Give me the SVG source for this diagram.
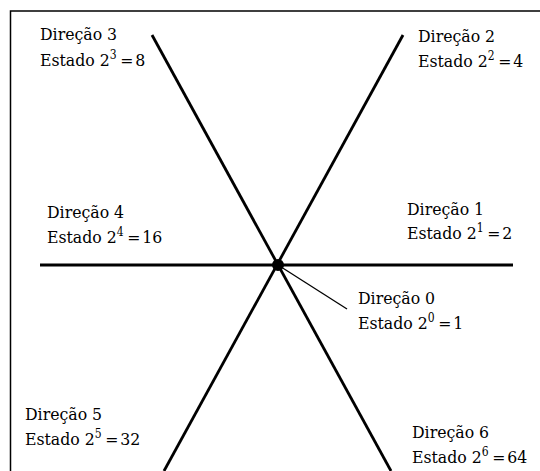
<svg xmlns="http://www.w3.org/2000/svg" width="540" height="471" viewBox="0 0 540 471">
<style>
.t{font-family:'DejaVu Serif','Liberation Serif',serif;font-size:17.5px;fill:#000}
.sup{font-size:12px}
.axis{stroke:#000;stroke-width:2.8;fill:none}
.lead{stroke:#000;stroke-width:1.3;fill:none}
</style>
<rect x="10.5" y="11" width="540" height="470" fill="#fff" stroke="#000" stroke-width="1.5"/>
<g id="connectors">
<line class="axis" x1="40" y1="265" x2="513" y2="265"/>
<line class="axis" x1="152" y1="35" x2="391" y2="471"/>
<line class="axis" x1="403" y1="35" x2="164" y2="471"/>
<line class="lead" x1="278" y1="265" x2="347" y2="309"/>
</g>
<g id="center"><circle cx="278" cy="265" r="6" fill="#000"/></g>
<g class="t">
<g id="dir3" transform="translate(40,40) scale(0.9,1)"><text x="0" y="0">Direção 3</text><text x="0" y="26">Estado 2<tspan class="sup" dy="-7">3</tspan><tspan dx="4" dy="7">=</tspan><tspan dx="2">8</tspan></text></g>
<g id="dir2" transform="translate(418,42) scale(0.9,1)"><text x="0" y="0">Direção 2</text><text x="0" y="25">Estado 2<tspan class="sup" dy="-7">2</tspan><tspan dx="4" dy="7">=</tspan><tspan dx="2">4</tspan></text></g>
<g id="dir4" transform="translate(47,218) scale(0.9,1)"><text x="0" y="0">Direção 4</text><text x="0" y="25">Estado 2<tspan class="sup" dy="-7">4</tspan><tspan dx="4" dy="7">=</tspan><tspan dx="2">16</tspan></text></g>
<g id="dir1" transform="translate(407,215) scale(0.9,1)"><text x="0" y="0">Direção 1</text><text x="0" y="24">Estado 2<tspan class="sup" dy="-7">1</tspan><tspan dx="4" dy="7">=</tspan><tspan dx="2">2</tspan></text></g>
<g id="dir0" transform="translate(358,304) scale(0.9,1)"><text x="0" y="0">Direção 0</text><text x="0" y="25">Estado 2<tspan class="sup" dy="-7">0</tspan><tspan dx="4" dy="7">=</tspan><tspan dx="2">1</tspan></text></g>
<g id="dir5" transform="translate(25,420) scale(0.9,1)"><text x="0" y="0">Direção 5</text><text x="0" y="25">Estado 2<tspan class="sup" dy="-7">5</tspan><tspan dx="4" dy="7">=</tspan><tspan dx="2">32</tspan></text></g>
<g id="dir6" transform="translate(412,438) scale(0.9,1)"><text x="0" y="0">Direção 6</text><text x="0" y="25">Estado 2<tspan class="sup" dy="-7">6</tspan><tspan dx="4" dy="7">=</tspan><tspan dx="2">64</tspan></text></g>
</g>
</svg>
